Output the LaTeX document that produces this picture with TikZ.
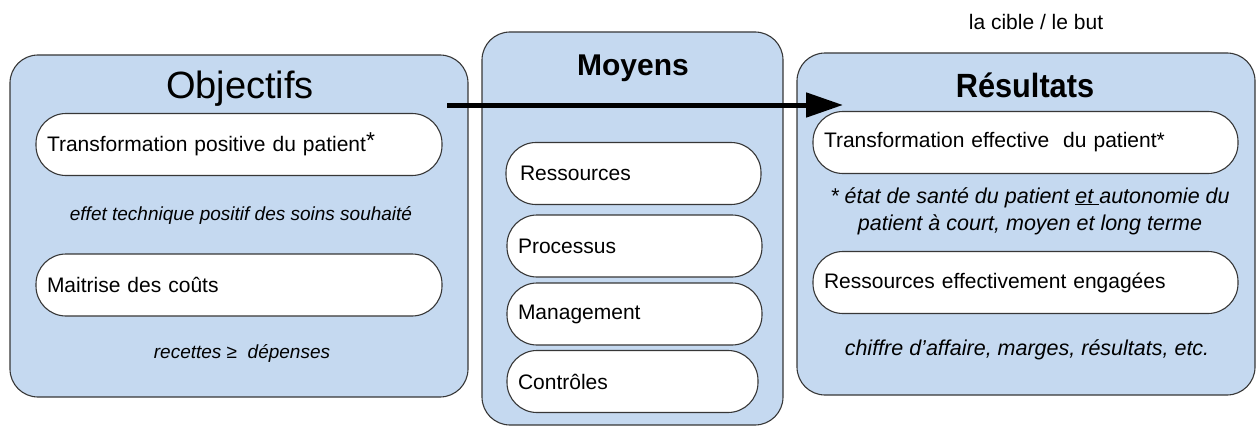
\documentclass[tikz,border=0pt]{standalone}
\usepackage{fontspec}
\setmainfont{Liberation Sans}
\usetikzlibrary{arrows.meta}
\definecolor{boxblue}{RGB}{197,217,240}
\definecolor{edge}{RGB}{55,55,55}
\tikzset{
  bigbox/.style={draw=edge, line width=1.1pt, fill=boxblue, rounded corners=28pt, inner sep=0pt},
  pill/.style={draw=edge, line width=1.1pt, fill=white, rounded corners=30pt, inner sep=0pt, inner xsep=11pt, minimum height=62pt, align=left, font=\fontsize{21}{25}\selectfont},
  note/.style={inner sep=0pt, anchor=base, font=\fontsize{19}{23}\selectfont\itshape},
  bignote/.style={note, font=\fontsize{21.5}{25}\selectfont\itshape},
  title/.style={inner sep=0pt, anchor=base},
  flow/.style={line width=5pt, -{Triangle[length=37pt,width=24pt]}}
}
\begin{document}
\begin{tikzpicture}[x=1pt,y=-1pt]
\useasboundingbox (0,0) rectangle (1258,428);
% big boxes
\node[bigbox, minimum width=458pt, minimum height=342pt] (obj) at (239,226) {};
\node[bigbox, minimum width=301pt, minimum height=393pt] (moy) at (632.5,228.5) {};
\node[bigbox, minimum width=458pt, minimum height=342pt] (res) at (1026,224) {};
% titles
\node[title, font=\fontsize{38}{42}\selectfont] (tobj) at (240,99) {Objectifs};
\node[title, font=\fontsize{30}{34}\selectfont\bfseries] (tmoy) at (633,75) {Moyens};
\node[title, font=\fontsize{32}{36}\selectfont\bfseries] (tres) at (1025,97) {\scalebox{0.96}[1.05]{Résultats}};
\node[title, font=\fontsize{21}{24}\selectfont] (cible) at (1036,30) {la cible / le but};
% arrow
\coordinate (a1) at (447,105);
\coordinate (a2) at (843,105);
\draw[flow] (a1) -- (a2);
% objectifs pills
\node[pill, minimum width=406pt, text width=384pt] (o1) at (239,144.5) {Transformation positive du patient\raisebox{3pt}{\fontsize{23}{23}\selectfont *}};
\node[note] (on1) at (241,220) {effet technique positif des soins souhaité};
\node[pill, minimum width=406pt, text width=384pt] (o2) at (239,285) {Maitrise des coûts};
\node[note] (on2) at (242,358) {recettes ≥~ dépenses};
% moyens pills
\node[pill, minimum width=249pt, text width=227pt, inner xsep=14pt] (m1) at (633.5,173.5) {Ressources};
\node[pill, minimum width=255pt, text width=233pt] (m2) at (634.5,246) {Processus};
\node[pill, minimum width=255pt, text width=233pt] (m3) at (634.5,314) {Management};
\node[pill, minimum width=251pt, text width=229pt, inner xsep=10pt] (m4) at (632.5,381.5) {Contrôles};
% resultats pills
\node[pill, minimum width=425pt, text width=403pt, inner xsep=10pt] (r1) at (1025.5,142.5) {Transformation effective~ du patient*};
\node[bignote] (rn1) at (1030,203) {* état de santé du patient \underline{et }autonomie du};
\node[bignote] (rn2) at (1030,230) {patient à court, moyen et long terme};
\node[pill, minimum width=425pt, text width=403pt, inner xsep=10pt] (r2) at (1025.5,282.5) {Ressources effectivement engagées};
\node[bignote] (rn3) at (1027,355) {chiffre d’affaire, marges, résultats, etc.};
\end{tikzpicture}
\end{document}
